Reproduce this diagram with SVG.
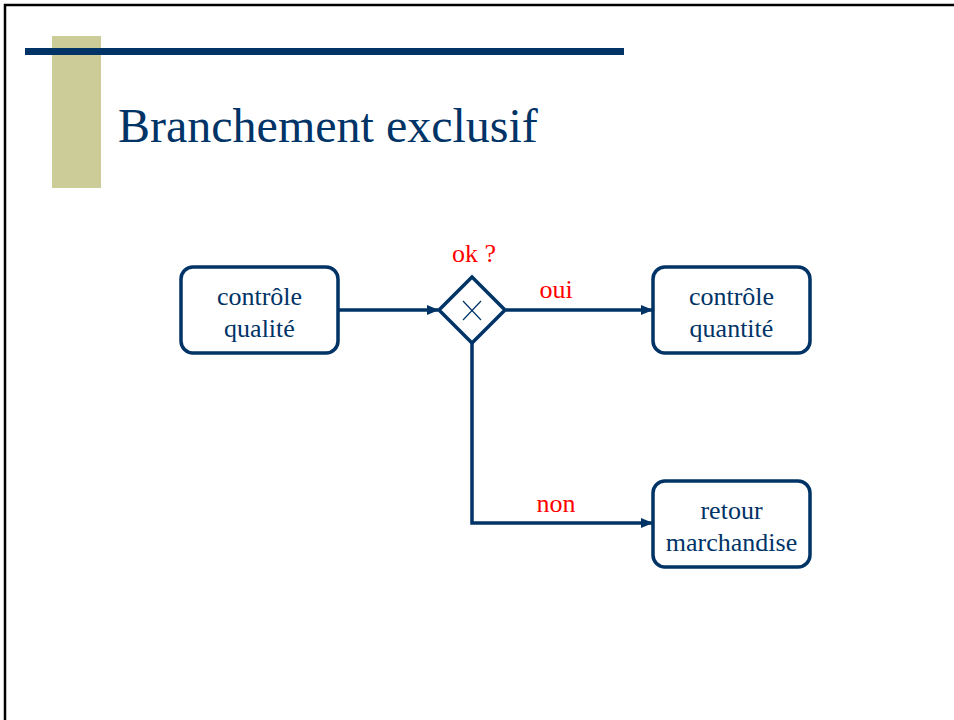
<svg xmlns="http://www.w3.org/2000/svg" width="954" height="720" viewBox="0 0 954 720">
<style>
.node rect{fill:#fff;stroke:#003366;stroke-width:3.5}
.lbl{font-family:"Liberation Serif",serif;font-size:26px;fill:#003366;text-anchor:middle}
.red{font-family:"Liberation Serif",serif;font-size:26px;fill:#ff0000;text-anchor:middle}
.conn{fill:none;stroke:#003366;stroke-width:3.5;marker-end:url(#ah)}
</style>
<defs>
<marker id="ah" markerWidth="12" markerHeight="10" refX="11" refY="5" orient="auto" markerUnits="userSpaceOnUse">
<path d="M0,0 L12,5 L0,10 Z" fill="#003366"/>
</marker>
</defs>
<rect x="0" y="0" width="954" height="720" fill="#fff"/>
<rect x="5" y="5" width="960" height="730" fill="none" stroke="#000" stroke-width="2.5"/>
<rect x="52" y="36" width="49" height="152" fill="#CCCC99"/>
<rect x="25" y="48" width="599" height="7" fill="#003366"/>
<text x="118" y="142" font-family="Liberation Serif, serif" font-size="48" fill="#003366">Branchement exclusif</text>

<g id="connectors">
<path class="conn" d="M338,310 L438,310"/>
<path class="conn" d="M506,310 L652,310"/>
<path class="conn" d="M472,343 L472,523 L652,523"/>
<text class="red" x="556" y="298">oui</text>
<text class="red" x="556" y="512">non</text>
</g>

<g id="n1" class="node">
<rect x="181" y="267" width="157" height="86" rx="12"/>
<text class="lbl" x="259.5" y="305">contrôle</text>
<text class="lbl" x="259.5" y="337">qualité</text>
</g>
<g id="gw">
<path d="M472,277 L505,310 L472,343 L439,310 Z" fill="#fff" stroke="#003366" stroke-width="3.5"/>
<path d="M463,301 L481,320 M481,301 L463,320" stroke="#003366" stroke-width="1.2" fill="none"/>
<text class="red" x="474" y="262">ok ?</text>
</g>
<g id="n2" class="node">
<rect x="653" y="267" width="157" height="86" rx="12"/>
<text class="lbl" x="731.5" y="305">contrôle</text>
<text class="lbl" x="731.5" y="337">quantité</text>
</g>
<g id="n3" class="node">
<rect x="653" y="481" width="157" height="86" rx="12"/>
<text class="lbl" x="731.5" y="519">retour</text>
<text class="lbl" x="731.5" y="551">marchandise</text>
</g>
</svg>
